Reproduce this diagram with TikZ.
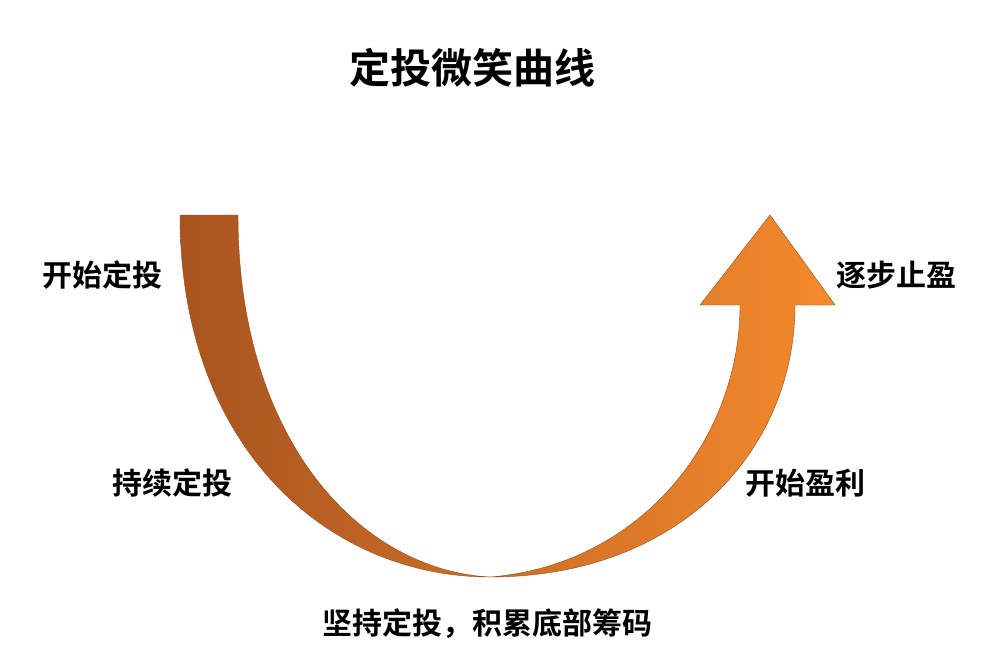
\documentclass[tikz,border=0pt]{standalone}
\usepackage{fontspec}
\setmainfont{Noto Sans CJK SC}[BoldFont={Noto Sans CJK SC Bold}]
\definecolor{cl}{HTML}{A8541F}
\definecolor{cr}{HTML}{F58A2C}
\definecolor{ce}{HTML}{9A4A1A}
\begin{document}
\begin{tikzpicture}[x=1pt,y=-1pt,
  lbl/.style={font=\fontsize{30}{32}\selectfont\bfseries,inner sep=0pt}]
\useasboundingbox[fill=white] (0,0) rectangle (985,662);
\node[lbl,font=\fontsize{41}{44}\selectfont\bfseries] (title) at (472,68) {定投微笑曲线};
\path[left color=cl, right color=cr, draw=ce, line width=0.4pt]
  (180,215) .. controls (180,450) and (330,577) .. (490,577)
  .. controls (680,577) and (795,450) .. (795,305)
  -- (835,305) -- (770,215) -- (700,305) -- (740,305)
  .. controls (740,440) and (640,565) .. (490,577)
  .. controls (360,570) and (238,440) .. (238,215) -- cycle;
\node[lbl] (a) at (102,275) {开始定投};
\node[lbl] (b) at (172,483) {持续定投};
\node[lbl] (c) at (487,624) {坚持定投，积累底部筹码};
\node[lbl] (d) at (805,483) {开始盈利};
\node[lbl] (e) at (896,275) {逐步止盈};
\end{tikzpicture}
\end{document}
